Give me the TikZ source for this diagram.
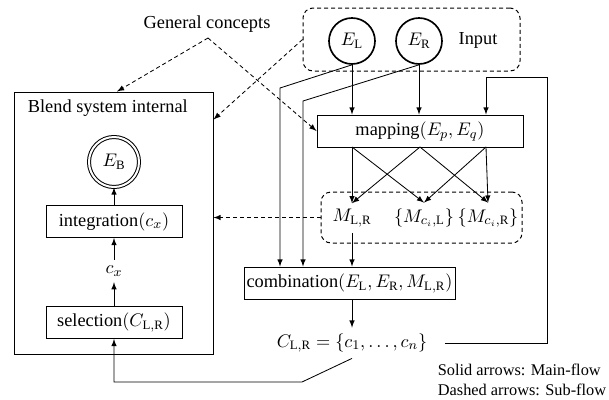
\documentclass[tikz,border=0pt]{standalone}
\usepackage{fontspec}
\setmainfont{Liberation Serif}
\usetikzlibrary{calc}

\tikzstyle{entity}=[circle,draw,line width=1pt,minimum size=27.6pt,inner sep=0pt]
\tikzstyle{func}=[draw,line width=0.6pt,minimum height=19.2pt,inner sep=1pt]
\tikzstyle{group}=[draw,dash pattern=on 2.4pt off 1.8pt,rounded corners=6pt,line width=0.6pt]
\tikzstyle{flow}=[draw,line width=0.5pt,->,>=latex]
\tikzstyle{subflow}=[draw,dash pattern=on 2.4pt off 1.8pt,line width=0.5pt,->,>=latex]
\tikzstyle{legend}=[anchor=west,font=\fontsize{9.8}{12}\selectfont]

\begin{document}
\begin{tikzpicture}[x=0.6pt,y=-0.6pt,font=\fontsize{11}{13}\selectfont]
\useasboundingbox (0,0) rectangle (609,399);
% groups
\node[group,minimum width=130.2pt,minimum height=37.8pt] (input) at (411.5,39.5) {};
\node[group,minimum width=120.6pt,minimum height=30.6pt] (mset) at (421.5,217.5) {};
\node[draw,line width=0.6pt,minimum width=119.4pt,minimum height=157.2pt] (blend) at (113.5,223) {};
\node[anchor=west] (title) at (22,108) {Blend system internal};
\node (concepts) at (207,24) {General concepts};
\node (inlabel) at (478,40) {Input};
% entities
\node[entity] (EL) at (352,41) {$E_{\mathrm{L}}$};
\node[entity] (ER) at (419,41) {$E_{\mathrm{R}}$};
\node[entity,double,double distance=1.2pt,line width=0.6pt,minimum size=30pt] (EB) at (114,162) {$E_{\mathrm{B}}$};
% functions
\node[func,minimum width=123.6pt] (map) at (420,131) {mapping$\bigl(E_p,E_q\bigr)$};
\node[func,minimum width=81.6pt] (integ) at (114,221.5) {integration$(c_x)$};
\node (cx) at (114,271) {$c_x$};
\node[func,minimum width=81.6pt] (sel) at (114,322.5) {selection$\bigl(C_{\mathrm{L,R}}\bigr)$};
\node[func,minimum width=126.6pt] (comb) at (349.5,283) {combination$\bigl(E_{\mathrm{L}},E_{\mathrm{R}},M_{\mathrm{L,R}}\bigr)$};
\node (MLR) at (352,218) {$M_{\mathrm{L,R}}$};
\node (MCL) at (424,218) {$\{M_{c_i,\mathrm{L}}\}$};
\node (MCR) at (488,218) {$\{M_{c_i,\mathrm{R}}\}$};
\node (CLR) at (352,343) {$C_{\mathrm{L,R}}=\{c_1,\dots,c_n\}$};
\node[legend] (legend1) at (432,370) {Solid arrows: Main-flow};
\node[legend] (legend2) at (432,390) {Dashed arrows: Sub-flow};
% main flow
\path[flow] (EL) -- (EL |- map.north);
\path[flow] (ER) -- (ER |- map.north);
\path[flow] (EL.south) -- (280,88) -- (280,0 |- comb.north);
\path[flow] (ER.south) -- (303,101) -- (303,0 |- comb.north);
\coordinate (m1) at (352,147);
\coordinate (m2) at (420,147);
\coordinate (m3) at (486,147);
\foreach \source/\dest in {m1/MLR, m1/MCL, m2/MLR, m2/MCR, m3/MCL, m3/MCR}{
  \path[flow] (\source) -- (\dest.north);
}
\path[flow] (MLR) -- (MLR |- comb.north);
\path[flow] (comb.south -| CLR) -- (CLR.north);
\path[flow] ([xshift=7pt]CLR.east) -| (547,77) -| (m3 |- map.north);
\path[flow] (CLR.south) -- (302,382) -| (sel.south);
\path[flow] (sel) -- (cx);
\path[flow] (cx) -- (integ);
\path[flow] (integ) -- (EB);
% sub flow
\coordinate (gc) at (208,38);
\path[subflow] (gc) -- (117,0 |- blend.north);
\path[subflow] (gc) -- (map.west);
\path[subflow] (input.west) -- ($(blend.north east)+(0,28)$);
\path[subflow] (mset.west) -- (blend.east |- mset.west);
\end{tikzpicture}
\end{document}
